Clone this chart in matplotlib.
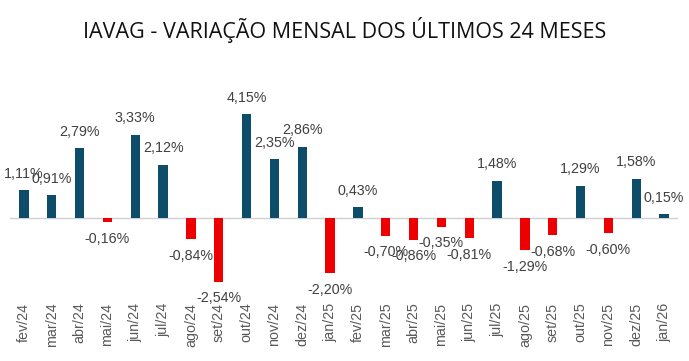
import matplotlib
matplotlib.use("Agg")
import matplotlib.pyplot as plt

months = ["fev/24", "mar/24", "abr/24", "mai/24", "jun/24", "jul/24", "ago/24", "set/24",
          "out/24", "nov/24", "dez/24", "jan/25", "fev/25", "mar/25", "abr/25", "mai/25",
          "jun/25", "jul/25", "ago/25", "set/25", "out/25", "nov/25", "dez/25", "jan/26"]
values = [1.11, 0.91, 2.79, -0.16, 3.33, 2.12, -0.84, -2.54,
          4.15, 2.35, 2.86, -2.20, 0.43, -0.70, -0.86, -0.35,
          -0.81, 1.48, -1.29, -0.68, 1.29, -0.60, 1.58, 0.15]
title = "IAVAG - VARIAÇÃO MENSAL DOS ÚLTIMOS 24 MESES"

POS = "#0E4D6A"
NEG = "#EE0000"

fig = plt.figure(figsize=(6.89, 3.61), dpi=100)
ax = fig.add_axes([10/689, (361-293)/361, 668/689, 200/361])

x = list(range(len(values)))
colors = [POS if v >= 0 else NEG for v in values]
ax.bar(x, values, width=0.33, color=colors, zorder=2)
ax.axhline(0, color="#D0D0D0", lw=1, zorder=1)
ax.set_xlim(-0.5, len(values) - 0.5)
ax.set_ylim(-3, 5)

for xi, v in zip(x, values):
    lab = f"{v:.2f}%".replace(".", ",")
    off = 12 if v >= 0 else -12
    ax.annotate(lab, (xi, v), xytext=(0, off), textcoords="offset points",
                ha="center", va="center", fontsize=10.3, color="#404040",
                family="Liberation Sans", annotation_clip=False)

for s in ax.spines.values():
    s.set_visible(False)
ax.set_yticks([])
ax.set_xticks(x)
ax.set_xticklabels(months, rotation=90, fontsize=10.3, color="#595959",
                   family="Liberation Sans")
ax.tick_params(axis="x", length=0, pad=7)

fig.text(0.5, 1 - 30/361, title, ha="center", va="center", fontsize=15.5,
         family="Open Sans", color="#111111")

fig.savefig("out.png", dpi=100)
